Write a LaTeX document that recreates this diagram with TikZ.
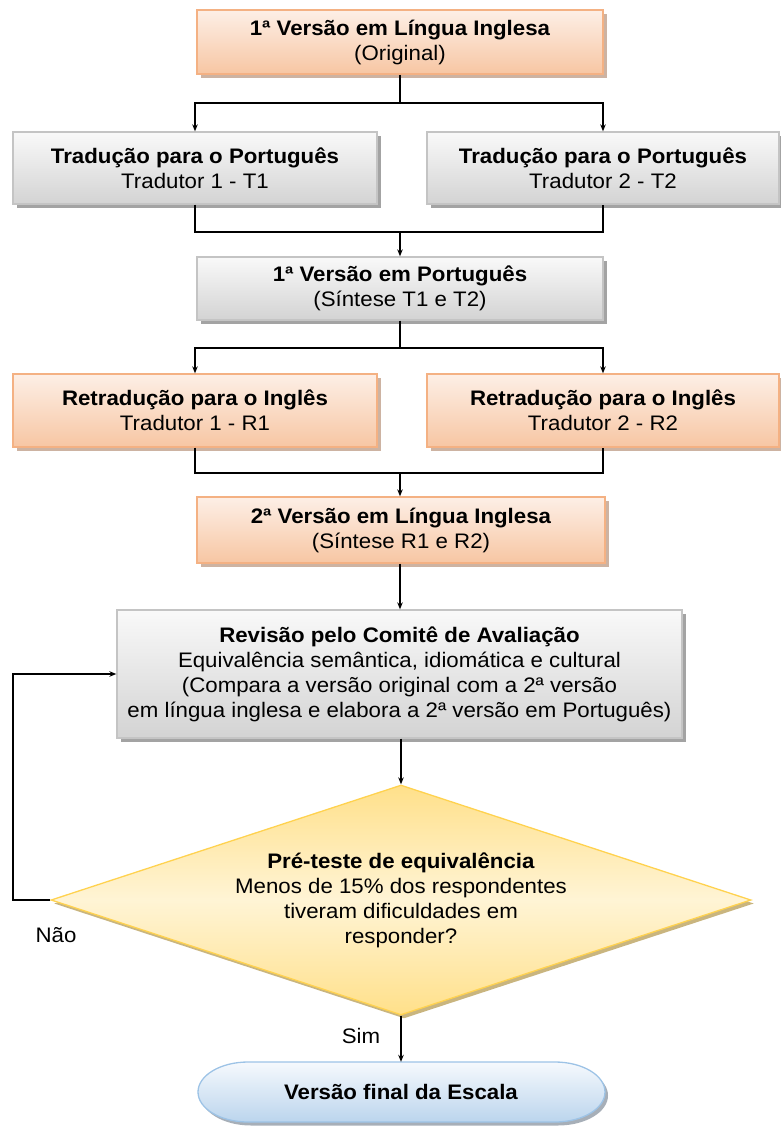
\documentclass[tikz,border=0pt]{standalone}
\usepackage{fontspec}
\setmainfont{Liberation Sans}[FakeStretch=1.06]
\usetikzlibrary{shapes.geometric,shadows,arrows.meta}

\definecolor{orangeline}{HTML}{F4B183}
\definecolor{orangetop}{HTML}{FDEFE6}
\definecolor{orangebot}{HTML}{F7C6A3}
\definecolor{orangeshadow}{HTML}{CDB3A2}
\definecolor{grayline}{HTML}{C4C4C4}
\definecolor{graytop}{HTML}{F9F9F9}
\definecolor{graybot}{HTML}{D3D3D3}
\definecolor{grayshadow}{HTML}{A3A3A3}
\definecolor{yellowline}{HTML}{FFD24F}
\definecolor{yellowedge}{HTML}{FFE08A}
\definecolor{yellowmid}{HTML}{FFF4D5}
\definecolor{yellowshadow}{HTML}{C9B57F}
\definecolor{blueline}{HTML}{9DC3E6}
\definecolor{bluetop}{HTML}{F6F9FD}
\definecolor{bluebot}{HTML}{BBD5ED}
\definecolor{blueshadow}{HTML}{A7AFB8}

\begin{document}
\begin{tikzpicture}[x=1pt,y=-1pt,
  font=\fontsize{21}{25}\selectfont,
  base/.style={draw, line width=1.3pt, align=center, inner sep=0pt},
  orangebox/.style={base, draw=orangeline, top color=orangetop, bottom color=orangebot,
    drop shadow={shadow xshift=3.5pt, shadow yshift=-3.5pt, fill=orangeshadow, opacity=1}},
  graybox/.style={base, draw=grayline, top color=graytop, bottom color=graybot,
    drop shadow={shadow xshift=3.5pt, shadow yshift=-3.5pt, fill=grayshadow, opacity=1}},
  decision/.style={base, diamond, aspect=3.04, draw=yellowline, top color=yellowedge,
    bottom color=yellowedge, middle color=yellowmid,
    drop shadow={shadow xshift=3pt, shadow yshift=-3.5pt, fill=yellowshadow, opacity=1}},
  termshape/.style={draw=blueline, line width=1.3pt, top color=bluetop, bottom color=bluebot,
    drop shadow={shadow xshift=3pt, shadow yshift=-3.5pt, fill=blueshadow, opacity=1}},
  terminal/.style={inner sep=0pt, minimum width=409pt, minimum height=60pt},
  link/.style={line width=1.3pt, black},
  arr/.style={link, -{Stealth[length=7pt,width=5.5pt]}},
  lbl/.style={inner sep=0pt}]

\useasboundingbox (0,0) rectangle (781,1128);

% boxes
\node[orangebox, minimum width=406pt, minimum height=64pt] (orig) at (400,42)
  {\textbf{1ª Versão em Língua Inglesa}\\(Original)};
\node[graybox, minimum width=364pt, minimum height=72pt] (t1) at (195,168)
  {\textbf{Tradução para o Português}\\Tradutor 1 - T1};
\node[graybox, minimum width=352pt, minimum height=72pt] (t2) at (603,168)
  {\textbf{Tradução para o Português}\\Tradutor 2 - T2};
\node[graybox, minimum width=406pt, minimum height=63pt] (pt1) at (400,288.5)
  {\textbf{1ª Versão em Português}\\(Síntese T1 e T2)};
\node[orangebox, minimum width=364pt, minimum height=73pt] (r1) at (195,410.5)
  {\textbf{Retradução para o Inglês}\\Tradutor 1 - R1};
\node[orangebox, minimum width=352pt, minimum height=73pt] (r2) at (603,410.5)
  {\textbf{Retradução para o Inglês}\\Tradutor 2 - R2};
\node[orangebox, minimum width=408pt, minimum height=66pt] (en2) at (401,530)
  {\textbf{2ª Versão em Língua Inglesa}\\(Síntese R1 e R2)};
\node[graybox, minimum width=565pt, minimum height=128pt] (rev) at (399.5,674)
  {\textbf{Revisão pelo Comitê de Avaliação}\\Equivalência semântica, idiomática e cultural\\(Compara a versão original com a 2ª versão\\em língua inglesa e elabora a 2ª versão em Português)};
\node[decision, minimum width=700pt, minimum height=230pt] (pre) at (401,900)
  {\textbf{Pré-teste de equivalência}\\Menos de 15\% dos respondentes\\tiveram dificuldades em\\responder?};

% terminal with elliptical ends
\path[termshape] (248,1062) -- (555,1062)
  arc[start angle=-90, end angle=90, x radius=50, y radius=30] -- (248,1122)
  arc[start angle=90, end angle=270, x radius=50, y radius=30] -- cycle;
\node[terminal] (fim) at (401,1092) {\textbf{Versão final da Escala}};

% join points
\coordinate (s1) at (400,103);
\coordinate (j1) at (400,232);
\coordinate (s2) at (400,348);
\coordinate (j2) at (400,473);
\coordinate (loop) at (13,900);

% connectors
\draw[link] (orig.south) -- (s1);
\draw[arr] (s1) -| (t1.north);
\draw[arr] (s1) -| (t2.north);
\draw[link] (t1.south) |- (j1) -| (t2.south);
\draw[arr] (j1) -- (pt1.north);
\draw[link] (pt1.south) -- (s2);
\draw[arr] (s2) -| (r1.north);
\draw[arr] (s2) -| (r2.north);
\draw[link] (r1.south) |- (j2) -| (r2.south);
\draw[arr] (j2) -- (en2.north -| j2);
\draw[arr] (en2.south -| j2) -- (rev.north -| j2);
\draw[arr] (rev.south -| pre.north) -- (pre.north);
\draw[arr] (pre.west) -- (loop) |- (rev.west);
\draw[arr] (pre.south) -- (fim.north);

% branch labels
\node[lbl] (nao) at (56,935) {Não};
\node[lbl] (sim) at (361,1036) {Sim};
\end{tikzpicture}
\end{document}
